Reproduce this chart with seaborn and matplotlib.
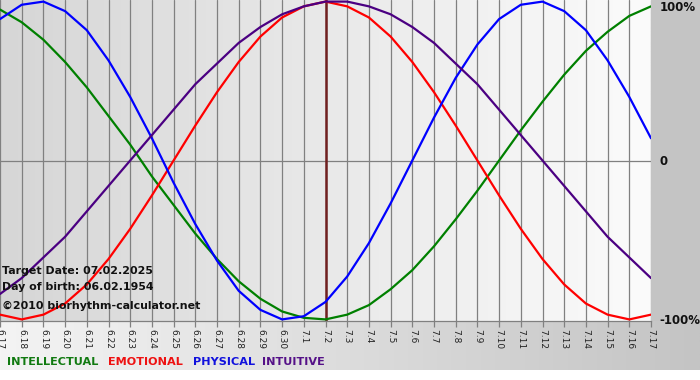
import numpy as np
import pandas as pd
import matplotlib
matplotlib.use("Agg")
import matplotlib.pyplot as plt
import seaborn as sns
from matplotlib.colors import LinearSegmentedColormap
from matplotlib.patches import Rectangle
import matplotlib.transforms as mtrans

# ---------------- data ----------------
dates = ["6.17", "6.18", "6.19", "6.20", "6.21", "6.22", "6.23", "6.24", "6.25", "6.26",
         "6.27", "6.28", "6.29", "6.30", "7.1", "7.2", "7.3", "7.4", "7.5", "7.6",
         "7.7", "7.8", "7.9", "7.10", "7.11", "7.12", "7.13", "7.14", "7.15", "7.16", "7.17"]

physical = [0.89, 0.98, 1.00, 0.94, 0.82, 0.63, 0.40, 0.14, -0.14, -0.40,
            -0.63, -0.82, -0.94, -1.00, -0.98, -0.89, -0.73, -0.52, -0.27, 0.00,
            0.27, 0.52, 0.73, 0.89, 0.98, 1.00, 0.94, 0.82, 0.63, 0.40, 0.14]
emotional = [-0.97, -1.00, -0.97, -0.90, -0.78, -0.62, -0.43, -0.22, 0.00, 0.22,
             0.43, 0.62, 0.78, 0.90, 0.97, 1.00, 0.97, 0.90, 0.78, 0.62,
             0.43, 0.22, 0.00, -0.22, -0.43, -0.62, -0.78, -0.90, -0.97, -1.00, -0.97]
intellectual = [0.95, 0.87, 0.76, 0.62, 0.46, 0.28, 0.10, -0.10, -0.28, -0.46,
                -0.62, -0.76, -0.87, -0.95, -0.99, -1.00, -0.97, -0.91, -0.81, -0.69,
                -0.54, -0.37, -0.19, 0.00, 0.19, 0.37, 0.54, 0.69, 0.81, 0.91, 0.97]
intuitive = [-0.84, -0.74, -0.61, -0.48, -0.32, -0.16, 0.00, 0.16, 0.32, 0.48,
             0.61, 0.74, 0.84, 0.92, 0.97, 1.00, 1.00, 0.97, 0.92, 0.84,
             0.74, 0.61, 0.48, 0.32, 0.16, 0.00, -0.16, -0.32, -0.48, -0.61, -0.74]

series_names = ["INTELLECTUAL", "EMOTIONAL", "PHYSICAL", "INTUITIVE"]
series_colors = ["#008000", "#ff0000", "#0000ff", "#4b0082"]
legend_colors = ["#117a11", "#ee1111", "#1111dd", "#551188"]
target_date = "7.2"
right_labels = ["100%", "0", "-100%"]
right_values = [1.0, 0.0, -1.0]
info_lines = ["Target Date: 07.02.2025", "Day of birth: 06.02.1954",
              "\u00a92010 biorhythm-calculator.net"]

# ---------------- frame ----------------
sns.set_theme(style="white")
plt.rcParams["font.family"] = ["DejaVu Sans"]

W, H = 700, 380
fig = plt.figure(figsize=(W / 100, H / 100), dpi=100)
fig.patch.set_facecolor("white")

# bottom gradient band
bg = fig.add_axes([0, 10 / H, 1, 49 / H])
grad = LinearSegmentedColormap.from_list("g", ["#f4f4f4", "#c4c4c4"])
bg.imshow(np.linspace(0, 1, 256)[None, :], aspect="auto", cmap=grad,
          extent=[0, 1, 0, 1])
bg.set_axis_off()

# right grey strip
fig.add_artist(Rectangle((651 / W, 59 / H), 49 / W, 321 / H,
                         transform=fig.transFigure, color="#c4c4c4", zorder=0))

ax = fig.add_axes([0, 59 / H, 651 / W, 321 / H])
ax.set_facecolor("none")

ylim = (-1.01, 1.01)
pgrad = LinearSegmentedColormap.from_list("p", ["#d6d6d6", "#e9e9e9", "#fbfbfb"])
ax.imshow(np.linspace(0, 1, 256)[None, :], aspect="auto", cmap=pgrad,
          extent=[0, len(dates) - 1, ylim[0], ylim[1]], zorder=0)

x = np.arange(len(dates))
for xi in x:
    ax.axvline(xi, color="#808080", lw=0.9, zorder=1)
ax.axhline(0, color="#808080", lw=0.9, zorder=1)

ti = dates.index(target_date)
ax.axvline(ti, color="#702020", lw=1.8, zorder=2)

df = pd.DataFrame({"x": np.tile(x, 4),
                   "value": intellectual + emotional + physical + intuitive,
                   "series": np.repeat(series_names, len(dates))})
sns.lineplot(data=df, x="x", y="value", hue="series", hue_order=series_names,
             palette=dict(zip(series_names, series_colors)), lw=1.6,
             legend=False, ax=ax, zorder=3)

ax.set_xlim(0, len(dates) - 1)
ax.set_ylim(*ylim)
ax.set_xlabel("")
ax.set_ylabel("")
ax.set_xticks(x)
ax.set_xticklabels(dates, rotation=270, fontsize=6.5, color="#222222",
                   ha="center", va="top")
ax.tick_params(axis="x", length=4, width=0.9, color="#808080", pad=2,
               bottom=True, direction="out")
ax.set_yticks([])
for s in ["top", "left", "right"]:
    ax.spines[s].set_visible(False)
ax.spines["bottom"].set_color("#808080")
ax.spines["bottom"].set_linewidth(0.9)

# right axis labels
blend = mtrans.blended_transform_factory(ax.transAxes, ax.transData)
offs = [-4, -1, -1]
for lab, v, o in zip(right_labels, right_values, offs):
    ax.annotate(lab, xy=(1, v), xycoords=blend, xytext=(6, o),
                textcoords="offset points", ha="left", va="center",
                fontsize=8.5, fontweight="bold", color="#111111",
                annotation_clip=False)

# info texts
for txt, yp in zip(info_lines, [271, 287, 306]):
    fig.text(2 / W, 1 - yp / H, txt, ha="left", va="center", fontsize=7.9,
             fontweight="bold", color="#111111", zorder=10)

# legend words
for name, col, xp in zip(series_names, legend_colors, [7, 108, 193, 262]):
    fig.text(xp / W, 1 - 362 / H, name, ha="left", va="center", fontsize=8.1,
             fontweight="bold", color=col)

fig.savefig("out.png", dpi=100)
